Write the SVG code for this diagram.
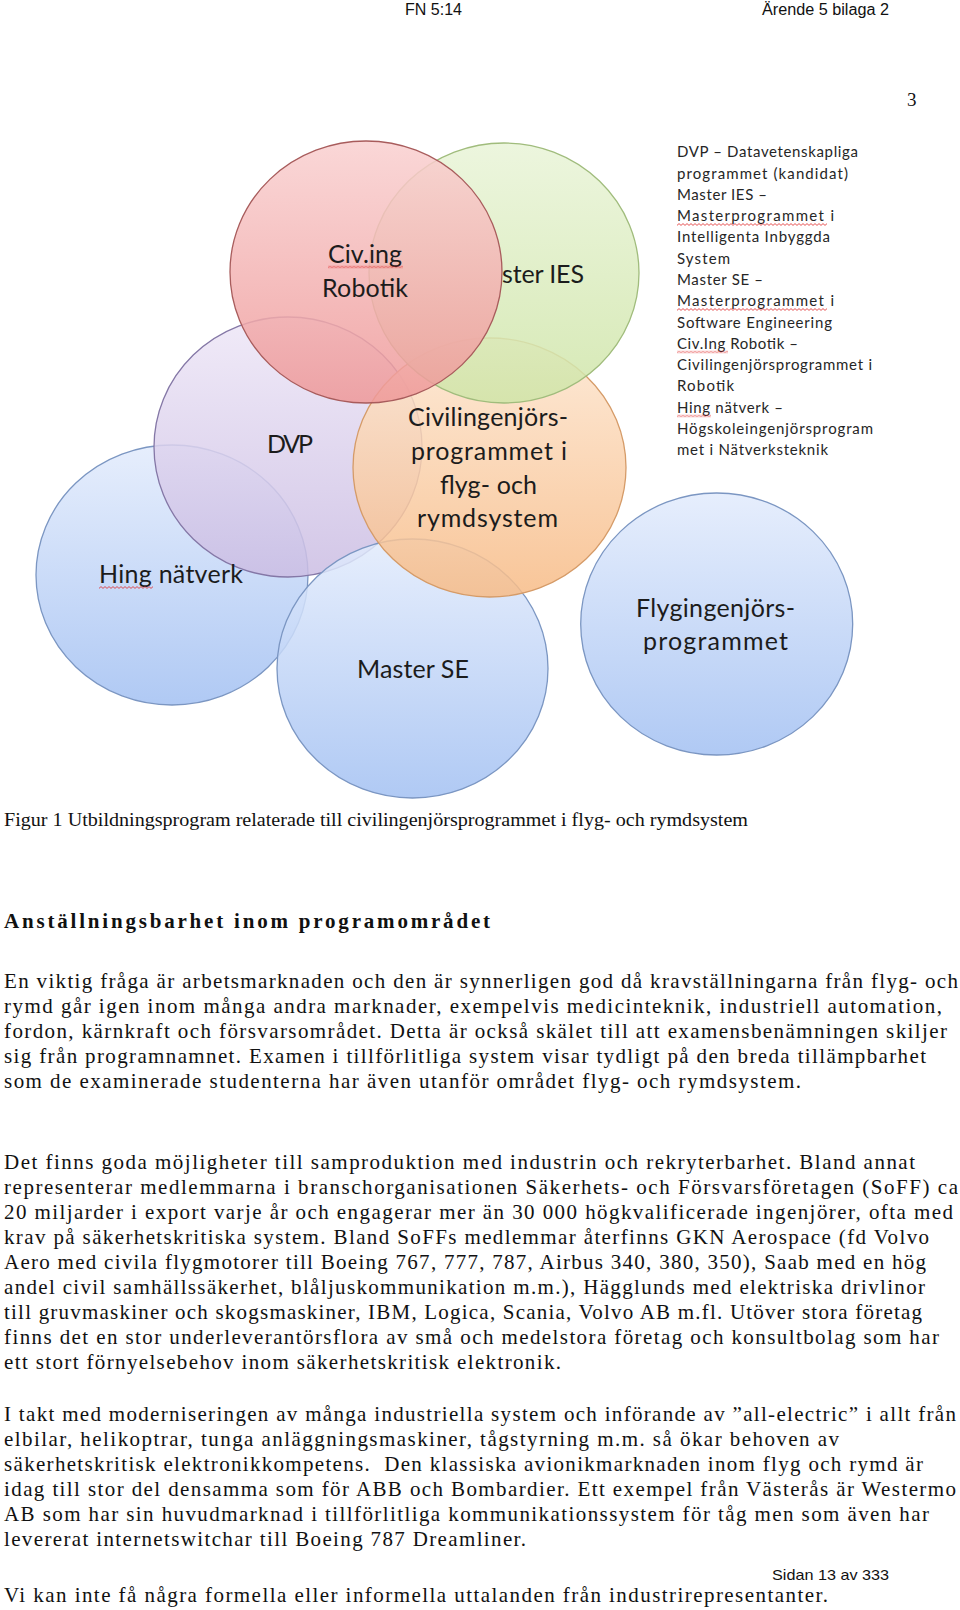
<svg xmlns="http://www.w3.org/2000/svg" width="960" height="1610" viewBox="0 0 960 1610">
<style>
.hdr{font-family:"Liberation Sans",Arial,sans-serif;font-size:16px;fill:#111}
.ft{font-family:"Liberation Sans",Arial,sans-serif;font-size:15px;fill:#111}
.pg{font-family:"Liberation Serif","Times New Roman",serif;font-size:19px;fill:#111}
.body{font-family:"Liberation Serif","Times New Roman",serif;font-size:21px;fill:#111}
.cap{font-family:"Liberation Serif","Times New Roman",serif;font-size:19px;fill:#111}
.h{font-family:"Liberation Serif","Times New Roman",serif;font-size:21px;font-weight:bold;fill:#111}
.lbl{font-family:Lato,"Open Sans",sans-serif;font-size:25px;fill:#1c1c1c;text-anchor:middle}
.leg{font-family:Lato,"Open Sans",sans-serif;font-size:15px;fill:#262626}
.c{stroke-width:1.3;fill-opacity:0.85}
.sq{fill:url(#wv)}
</style>
<defs>
<linearGradient id="gRed" x1="0" y1="0" x2="0" y2="1"><stop offset="0" stop-color="#f9d0d0"/><stop offset="1" stop-color="#ee9898"/></linearGradient>
<linearGradient id="gGreen" x1="0" y1="0" x2="0" y2="1"><stop offset="0" stop-color="#e9f4d8"/><stop offset="1" stop-color="#cfe5a8"/></linearGradient>
<linearGradient id="gPurple" x1="0" y1="0" x2="0" y2="1"><stop offset="0" stop-color="#eee7f7"/><stop offset="1" stop-color="#cbbde3"/></linearGradient>
<linearGradient id="gOrange" x1="0" y1="0" x2="0" y2="1"><stop offset="0" stop-color="#fde6d0"/><stop offset="1" stop-color="#f7bb86"/></linearGradient>
<linearGradient id="gBlue" x1="0" y1="0" x2="0" y2="1"><stop offset="0" stop-color="#e2ebfc"/><stop offset="1" stop-color="#a2c0f2"/></linearGradient>
<pattern id="wv" width="4" height="3" patternUnits="userSpaceOnUse"><path d="M0 2.4 L2 0.6 L4 2.4" fill="none" stroke="#e02828" stroke-width="0.8"/></pattern>
<clipPath id="notRed"><path clip-rule="evenodd" d="M0 0 H960 V800 H0 Z M230 272 a136 131 0 1 0 272 0 a136 131 0 1 0 -272 0 Z"/></clipPath>
</defs>
<rect width="960" height="1610" fill="#fff"/>

<g id="page-header">
<text class="hdr" x="405" y="15" textLength="57" lengthAdjust="spacingAndGlyphs">FN 5:14</text>
<text class="hdr" x="762" y="15" textLength="127" lengthAdjust="spacingAndGlyphs">Ärende 5 bilaga 2</text>
<text class="pg" x="907" y="106">3</text>
</g>

<g id="node-hing">
<ellipse class="c" cx="172" cy="575" rx="136" ry="130" fill="url(#gBlue)" stroke="#7b96c2"/>
</g>
<g id="node-dvp">
<ellipse class="c" cx="288" cy="447" rx="134" ry="130" fill="url(#gPurple)" stroke="#8477a6"/>
</g>
<g id="node-master-se">
<ellipse class="c" cx="412.5" cy="668.5" rx="135.5" ry="129.5" fill="url(#gBlue)" stroke="#7b96c2"/>
</g>
<g id="node-flyg">
<ellipse class="c" cx="716.7" cy="624" rx="136" ry="131" fill="url(#gBlue)" stroke="#7b96c2"/>
</g>
<g id="node-orange">
<ellipse class="c" cx="489.5" cy="467.5" rx="136.5" ry="129.5" fill="url(#gOrange)" stroke="#d59b68"/>
</g>
<g id="node-master-ies">
<ellipse class="c" cx="504" cy="273" rx="135" ry="130" fill="url(#gGreen)" stroke="#a0bc7c"/>
<text class="lbl" x="584" y="283" style="text-anchor:end" textLength="117" clip-path="url(#notRed)">Master IES</text>
</g>
<g id="node-civing">
<ellipse class="c" cx="366" cy="272" rx="136" ry="131" fill="url(#gRed)" stroke="#a85c5c"/>
</g>

<g id="labels">
<text class="lbl" x="365" y="263" textLength="74">Civ.ing</text>
<text class="lbl" x="365" y="297" textLength="86">Robotik</text>
<text class="lbl" x="290" y="453" textLength="46">DVP</text>
<text class="lbl" x="171" y="583" textLength="144">Hing nätverk</text>
<text class="lbl" x="413" y="678" textLength="112">Master SE</text>
<text class="lbl" x="488" y="426" textLength="160">Civilingenjörs-</text>
<text class="lbl" x="489" y="460" textLength="156">programmet i</text>
<text class="lbl" x="488.5" y="494" textLength="97">flyg- och</text>
<text class="lbl" x="487.5" y="527" textLength="141">rymdsystem</text>
<text class="lbl" x="715.5" y="617" textLength="159">Flygingenjörs-</text>
<text class="lbl" x="715.5" y="650" textLength="145">programmet</text>
<rect class="sq" transform="translate(328,265.5)" width="75" height="3"/>
<rect class="sq" transform="translate(99,586)" width="54" height="3"/>
</g>

<g id="legend">
<text class="leg" x="677" y="157.3" textLength="181">DVP – Datavetenskapliga</text>
<text class="leg" x="677" y="178.6" textLength="171">programmet (kandidat)</text>
<text class="leg" x="677" y="199.8" textLength="90">Master IES –</text>
<text class="leg" x="677" y="221.1" textLength="157">Masterprogrammet i</text>
<text class="leg" x="677" y="242.4" textLength="153">Intelligenta Inbyggda</text>
<text class="leg" x="677" y="263.6" textLength="53">System</text>
<text class="leg" x="677" y="284.9" textLength="86">Master SE –</text>
<text class="leg" x="677" y="306.2" textLength="157">Masterprogrammet i</text>
<text class="leg" x="677" y="327.5" textLength="155">Software Engineering</text>
<text class="leg" x="677" y="348.7" textLength="121">Civ.Ing Robotik –</text>
<text class="leg" x="677" y="370" textLength="195">Civilingenjörsprogrammet i</text>
<text class="leg" x="677" y="391.3" textLength="57">Robotik</text>
<text class="leg" x="677" y="412.5" textLength="106">Hing nätverk –</text>
<text class="leg" x="677" y="433.8" textLength="196">Högskoleingenjörsprogram</text>
<text class="leg" x="677" y="455.1" textLength="151">met i Nätverksteknik</text>
<rect class="sq" transform="translate(677,223)" width="150" height="3"/>
<rect class="sq" transform="translate(677,308)" width="150" height="3"/>
<rect class="sq" transform="translate(677,350.5)" width="51" height="3"/>
<rect class="sq" transform="translate(677,414.5)" width="34" height="3"/>
</g>

<g id="text-body">
<text class="cap" x="4" y="826" textLength="744" lengthAdjust="spacingAndGlyphs">Figur 1 Utbildningsprogram relaterade till civilingenjörsprogrammet i flyg- och rymdsystem</text>
<text class="h" x="4" y="928" textLength="486">Anställningsbarhet inom programområdet</text>

<text class="body" x="4" y="988.3" textLength="954">En viktig fråga är arbetsmarknaden och den är synnerligen god då kravställningarna från flyg- och</text>
<text class="body" x="4" y="1013.3" textLength="938">rymd går igen inom många andra marknader, exempelvis medicinteknik, industriell automation,</text>
<text class="body" x="4" y="1038.3" textLength="943">fordon, kärnkraft och försvarsområdet. Detta är också skälet till att examensbenämningen skiljer</text>
<text class="body" x="4" y="1063.3" textLength="922">sig från programnamnet. Examen i tillförlitliga system visar tydligt på den breda tillämpbarhet</text>
<text class="body" x="4" y="1088.3" textLength="797">som de examinerade studenterna har även utanför området flyg- och rymdsystem.</text>

<text class="body" x="4" y="1168.5" textLength="911">Det finns goda möjligheter till samproduktion med industrin och rekryterbarhet. Bland annat</text>
<text class="body" x="4" y="1193.5" textLength="954">representerar medlemmarna i branschorganisationen Säkerhets- och Försvarsföretagen (SoFF) ca</text>
<text class="body" x="4" y="1218.5" textLength="949">20 miljarder i export varje år och engagerar mer än 30 000 högkvalificerade ingenjörer, ofta med</text>
<text class="body" x="4" y="1243.5" textLength="925">krav på säkerhetskritiska system. Bland SoFFs medlemmar återfinns GKN Aerospace (fd Volvo</text>
<text class="body" x="4" y="1268.5" textLength="922">Aero med civila flygmotorer till Boeing 767, 777, 787, Airbus 340, 380, 350), Saab med en hög</text>
<text class="body" x="4" y="1293.5" textLength="921">andel civil samhällssäkerhet, blåljuskommunikation m.m.), Hägglunds med elektriska drivlinor</text>
<text class="body" x="4" y="1318.5" textLength="918">till gruvmaskiner och skogsmaskiner, IBM, Logica, Scania, Volvo AB m.fl. Utöver stora företag</text>
<text class="body" x="4" y="1343.5" textLength="935">finns det en stor underleverantörsflora av små och medelstora företag och konsultbolag som har</text>
<text class="body" x="4" y="1368.5" textLength="557">ett stort förnyelsebehov inom säkerhetskritisk elektronik.</text>

<text class="body" x="4" y="1421" textLength="952">I takt med moderniseringen av många industriella system och införande av ”all-electric” i allt från</text>
<text class="body" x="4" y="1446" textLength="835">elbilar, helikoptrar, tunga anläggningsmaskiner, tågstyrning m.m. så ökar behoven av</text>
<text class="body" x="4" y="1471" textLength="919" xml:space="preserve">säkerhetskritisk elektronikkompetens.  Den klassiska avionikmarknaden inom flyg och rymd är</text>
<text class="body" x="4" y="1496" textLength="952">idag till stor del densamma som för ABB och Bombardier. Ett exempel från Västerås är Westermo</text>
<text class="body" x="4" y="1521" textLength="925">AB som har sin huvudmarknad i tillförlitliga kommunikationssystem för tåg men som även har</text>
<text class="body" x="4" y="1546" textLength="522">levererat internetswitchar till Boeing 787 Dreamliner.</text>
</g>

<g id="page-footer">
<text class="ft" x="772" y="1579.5" textLength="117" lengthAdjust="spacingAndGlyphs">Sidan 13 av 333</text>
<text class="body" x="4" y="1602" textLength="824">Vi kan inte få några formella eller informella uttalanden från industrirepresentanter.</text>
</g>
</svg>
